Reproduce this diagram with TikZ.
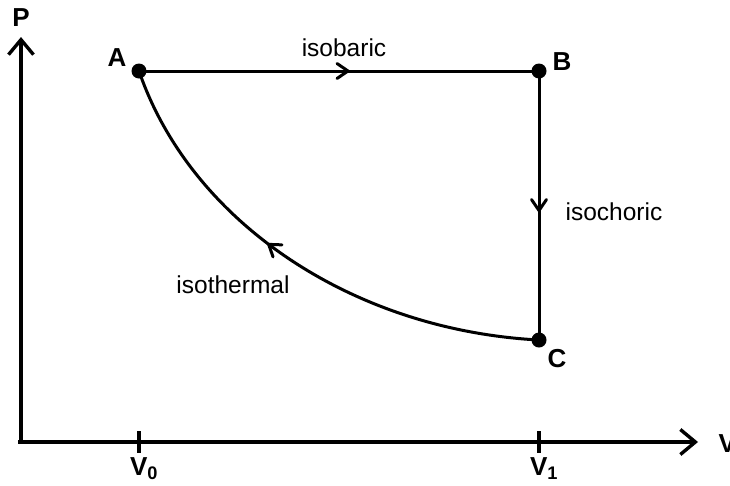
\documentclass[tikz,border=0pt]{standalone}
\usepackage{fontspec}
\setmainfont{Liberation Sans}
\usetikzlibrary{arrows.meta,decorations.markings}
\tikzset{
  axis/.style={line width=3.4pt,-{Straight Barb[length=15pt,width=25pt,line width=3.4pt]}},
  pathline/.style={line width=3pt},
  dot/.style={circle,fill=black,inner sep=0pt,minimum size=15pt},
  lbl/.style={font=\fontsize{26}{30}\selectfont\bfseries},
  txt/.style={font=\fontsize{24.5}{29}\selectfont},
  tick/.style={line width=3.4pt},
  midarrow/.style={postaction={decorate},decoration={markings,
    mark=at position #1 with {\draw[line width=3pt,line cap=round,line join=miter] (-6pt,7.5pt)--(5pt,0pt)--(-6pt,-7.5pt);}}}
}
\begin{document}
\begin{tikzpicture}[x=1pt,y=-1pt]
\useasboundingbox (0,0) rectangle (730,485);
\coordinate (Ystart) at (21,444);
\coordinate (Ostart) at (18,442);
\coordinate (Ytip) at (21,37);
\coordinate (Xtip) at (698,442);
\draw[axis] (Ystart) -- (Ytip);
\draw[axis] (Ostart) -- (Xtip);
\node[lbl] (P) at (21,18) {P};
\node[lbl,anchor=west] (V) at (715,444) {V};
% ticks
\coordinate (t0a) at (139,431); \coordinate (t0b) at (139,453);
\coordinate (t1a) at (539,431); \coordinate (t1b) at (539,453);
\draw[tick] (t0a) -- (t0b);
\draw[tick] (t1a) -- (t1b);
\node[lbl] (V0) at (144,469) {V\textsubscript{0}};
\node[lbl] (V1) at (544,469) {V\textsubscript{1}};
% states
\node[dot] (A) at (139,71) {};
\node[dot] (B) at (539,71) {};
\node[dot] (C) at (539,340) {};
\node[lbl] (LA) at (117,58) {A};
\node[lbl] (LB) at (562,62) {B};
\node[lbl] (LC) at (557,359) {C};
% processes
\draw[pathline,midarrow=0.51] (A.center) -- (B.center);
\draw[pathline,midarrow=0.5] (B.center) -- (C.center);
\draw[pathline,midarrow=0.56] (C.center) .. controls (350,330) and (190,220) .. (A.center);
\node[txt] (iso1) at (344,48) {isobaric};
\node[txt] (iso2) at (614,212) {isochoric};
\node[txt] (iso3) at (233,285) {isothermal};
\end{tikzpicture}
\end{document}
